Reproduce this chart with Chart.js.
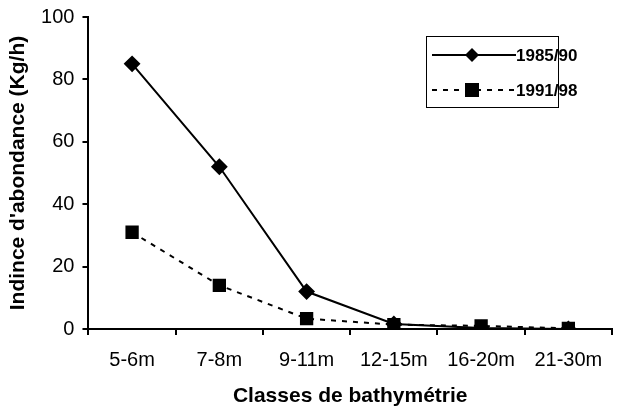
<!DOCTYPE html>
<html><head><meta charset="utf-8">
<script src="https://cdn.jsdelivr.net/npm/chart.js@4/dist/chart.umd.min.js"></script>
<style>html,body{margin:0;padding:0;background:#fff}#w{width:629px;height:407px}</style>
</head><body><div id="w"><canvas id="c"></canvas></div>
<script>
const categories = ['5-6m','7-8m','9-11m','12-15m','16-20m','21-30m'];
const series1985 = [85, 52, 12, 1.6, 0.3, 0];
const series1991 = [31, 14, 3.3, 1.4, 1.0, 0.2];
const seriesLabels = ['1985/90','1991/98'];
const yTicks = [0,20,40,60,80,100];

const FONT = 'Liberation Sans, Arial, sans-serif';

const boxLegend = {
  id: 'boxLegend',
  afterDraw(chart) {
    const ctx = chart.ctx;
    const x0 = 426, y0 = 36, w = 132, h = 71;
    ctx.save();
    ctx.fillStyle = '#fff';
    ctx.fillRect(x0, y0, w, h);
    ctx.strokeStyle = '#000'; ctx.lineWidth = 1;
    ctx.strokeRect(x0 + 0.5, y0 + 0.5, w, h);
    chart.data.datasets.forEach((ds, i) => {
      const y = y0 + 19 + i * 35;
      ctx.strokeStyle = '#000'; ctx.lineWidth = 2;
      ctx.setLineDash(ds.borderDash || []);
      ctx.beginPath(); ctx.moveTo(x0 + 6, y); ctx.lineTo(x0 + 90, y); ctx.stroke();
      ctx.setLineDash([]);
      ctx.fillStyle = '#000';
      const cx = x0 + 46;
      if (ds.pointStyle === 'rectRot') {
        ctx.beginPath(); ctx.moveTo(cx, y - 7); ctx.lineTo(cx + 7, y); ctx.lineTo(cx, y + 7); ctx.lineTo(cx - 7, y); ctx.closePath(); ctx.fill();
      } else {
        ctx.fillRect(cx - 7, y - 7, 14, 14);
      }
      ctx.font = 'bold 17px ' + FONT;
      ctx.textBaseline = 'middle';
      ctx.fillText(ds.label, x0 + 90, y + 1);
    });
    ctx.restore();
  }
};

new Chart(document.getElementById('c'), {
  type: 'line',
  data: {
    labels: categories,
    datasets: [
      { label: seriesLabels[0], data: series1985, borderColor: '#000', backgroundColor: '#000', borderWidth: 2,
        pointStyle: 'rectRot', pointRadius: 7, pointHoverRadius: 7, tension: 0 },
      { label: seriesLabels[1], data: series1991, borderColor: '#000', backgroundColor: '#000', borderWidth: 2,
        borderDash: [5, 6], pointStyle: 'rect', pointRadius: 8, pointHoverRadius: 8, tension: 0 }
    ]
  },
  options: {
    responsive: true, maintainAspectRatio: false, animation: false,
    layout: { padding: { top: 0, right: 17, left: 5, bottom: 0 } },
    plugins: { legend: { display: false }, tooltip: { enabled: false } },
    scales: {
      x: {
        offset: true,
        grid: { offset: true, drawOnChartArea: false, drawTicks: true, tickLength: 6, color: '#000', lineWidth: 2 },
        border: { color: '#000', width: 2 },
        ticks: { color: '#000', font: { family: FONT, size: 20 }, padding: 13, maxRotation: 0 },
        title: { display: true, text: 'Classes de bathymétrie', color: '#000', font: { family: FONT, size: 21, weight: 'bold', lineHeight: 1.0 }, padding: { top: 1, bottom: 0 } }
      },
      y: {
        min: 0, max: 100,
        afterBuildTicks(axis) { axis.ticks = yTicks.map(v => ({ value: v })); },
        grid: { drawOnChartArea: false, drawTicks: true, tickLength: 6, color: '#000', lineWidth: 2 },
        border: { color: '#000', width: 2 },
        ticks: { color: '#000', font: { family: FONT, size: 20, lineHeight: 0.9 }, padding: 8 },
        title: { display: true, text: "Indince d'abondance (Kg/h)", color: '#000', font: { family: FONT, size: 21, weight: 'bold', lineHeight: 1.1 }, padding: { top: 2, bottom: 3 } }
      }
    }
  },
  plugins: [boxLegend]
});
</script>
</body></html>
